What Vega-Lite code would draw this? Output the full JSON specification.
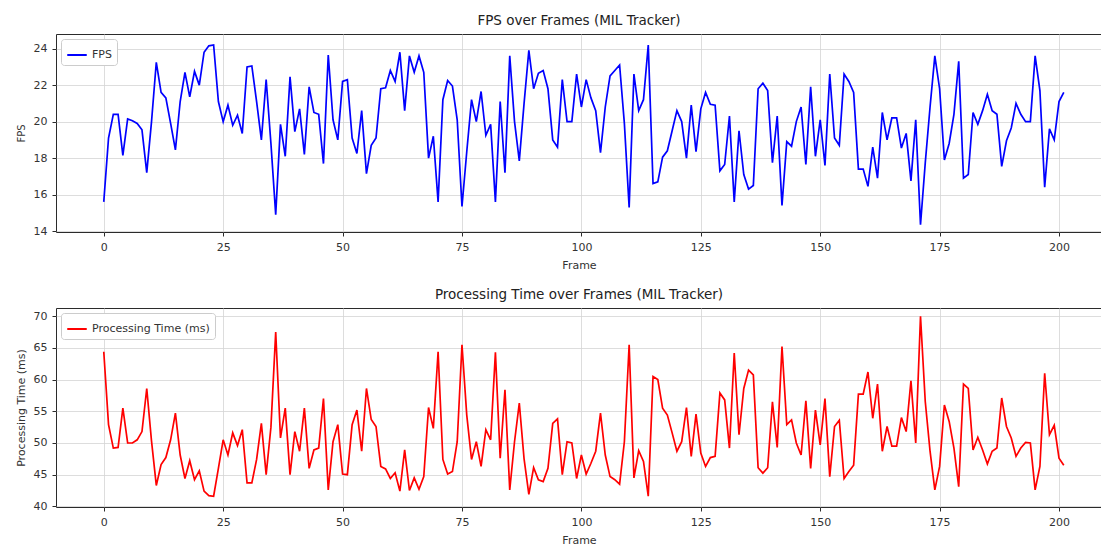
{
  "$schema": "https://vega.github.io/schema/vega-lite/v6.json",
  "background": "white",
  "padding": {"left": 14, "top": 13, "right": 0, "bottom": 0},
  "spacing": 16,
  "data": {"values": [
{"frame":0,"fps":15.6,"time":64.4},{"frame":1,"fps":19.1,"time":52.9},{"frame":2,"fps":20.4,"time":49.2},{"frame":3,"fps":20.4,"time":49.3},{"frame":4,"fps":18.15,"time":55.5},{"frame":5,"fps":20.15,"time":50.0},{"frame":6,"fps":20.05,"time":50.0},{"frame":7,"fps":19.9,"time":50.5},{"frame":8,"fps":19.55,"time":51.8},{"frame":9,"fps":17.2,"time":58.6},
{"frame":10,"fps":20.0,"time":50.3},{"frame":11,"fps":23.25,"time":43.3},{"frame":12,"fps":21.6,"time":46.6},{"frame":13,"fps":21.3,"time":47.7},{"frame":14,"fps":19.9,"time":50.5},{"frame":15,"fps":18.45,"time":54.7},{"frame":16,"fps":21.1,"time":48.1},{"frame":17,"fps":22.7,"time":44.4},{"frame":18,"fps":21.35,"time":47.2},{"frame":19,"fps":22.75,"time":44.2},
{"frame":20,"fps":22.0,"time":45.6},{"frame":21,"fps":23.8,"time":42.4},{"frame":22,"fps":24.15,"time":41.7},{"frame":23,"fps":24.2,"time":41.6},{"frame":24,"fps":21.1,"time":46.0},{"frame":25,"fps":20.0,"time":50.5},{"frame":26,"fps":20.9,"time":48.1},{"frame":27,"fps":19.8,"time":51.6},{"frame":28,"fps":20.35,"time":49.6},{"frame":29,"fps":19.35,"time":52.1},
{"frame":30,"fps":23.0,"time":43.7},{"frame":31,"fps":23.05,"time":43.7},{"frame":32,"fps":21.1,"time":47.4},{"frame":33,"fps":19.0,"time":53.1},{"frame":34,"fps":22.3,"time":45.0},{"frame":35,"fps":18.8,"time":52.5},{"frame":36,"fps":14.9,"time":67.5},{"frame":37,"fps":19.85,"time":50.8},{"frame":38,"fps":18.1,"time":55.5},{"frame":39,"fps":22.45,"time":45.0},
{"frame":40,"fps":19.45,"time":51.8},{"frame":41,"fps":20.7,"time":48.7},{"frame":42,"fps":18.2,"time":55.5},{"frame":43,"fps":21.9,"time":46.0},{"frame":44,"fps":20.5,"time":48.9},{"frame":45,"fps":20.4,"time":49.2},{"frame":46,"fps":17.7,"time":57.0},{"frame":47,"fps":23.65,"time":42.6},{"frame":48,"fps":20.1,"time":50.2},{"frame":49,"fps":19.0,"time":52.9},
{"frame":50,"fps":22.2,"time":45.1},{"frame":51,"fps":22.3,"time":45.0},{"frame":52,"fps":19.1,"time":52.9},{"frame":53,"fps":18.25,"time":55.2},{"frame":54,"fps":20.6,"time":48.7},{"frame":55,"fps":17.15,"time":58.6},{"frame":56,"fps":18.7,"time":53.7},{"frame":57,"fps":19.1,"time":52.6},{"frame":58,"fps":21.8,"time":46.3},{"frame":59,"fps":21.85,"time":45.9},
{"frame":60,"fps":22.8,"time":44.4},{"frame":61,"fps":22.2,"time":45.3},{"frame":62,"fps":23.8,"time":42.4},{"frame":63,"fps":20.6,"time":48.9},{"frame":64,"fps":23.6,"time":42.5},{"frame":65,"fps":22.7,"time":44.5},{"frame":66,"fps":23.6,"time":42.7},{"frame":67,"fps":22.7,"time":44.7},{"frame":68,"fps":18.0,"time":55.6},{"frame":69,"fps":19.2,"time":52.3},
{"frame":70,"fps":15.6,"time":64.4},{"frame":71,"fps":21.2,"time":47.4},{"frame":72,"fps":22.25,"time":45.1},{"frame":73,"fps":21.95,"time":45.5},{"frame":74,"fps":20.1,"time":50.2},{"frame":75,"fps":15.35,"time":65.5},{"frame":76,"fps":18.35,"time":54.4},{"frame":77,"fps":21.2,"time":47.4},{"frame":78,"fps":20.0,"time":50.2},{"frame":79,"fps":21.65,"time":46.3},
{"frame":80,"fps":19.25,"time":52.1},{"frame":81,"fps":19.85,"time":50.5},{"frame":82,"fps":15.6,"time":64.3},{"frame":83,"fps":21.1,"time":47.6},{"frame":84,"fps":17.2,"time":58.4},{"frame":85,"fps":23.6,"time":42.6},{"frame":86,"fps":20.0,"time":50.2},{"frame":87,"fps":17.85,"time":56.3},{"frame":88,"fps":21.0,"time":47.5},{"frame":89,"fps":23.9,"time":41.9},
{"frame":90,"fps":21.8,"time":46.1},{"frame":91,"fps":22.65,"time":44.2},{"frame":92,"fps":22.8,"time":43.9},{"frame":93,"fps":21.8,"time":46.0},{"frame":94,"fps":19.0,"time":53.1},{"frame":95,"fps":18.6,"time":53.8},{"frame":96,"fps":22.3,"time":45.0},{"frame":97,"fps":20.0,"time":50.2},{"frame":98,"fps":20.0,"time":50.0},{"frame":99,"fps":22.6,"time":44.4},
{"frame":100,"fps":20.8,"time":48.1},{"frame":101,"fps":22.3,"time":45.1},{"frame":102,"fps":21.3,"time":46.8},{"frame":103,"fps":20.6,"time":48.7},{"frame":104,"fps":18.3,"time":54.7},{"frame":105,"fps":20.8,"time":48.1},{"frame":106,"fps":22.5,"time":44.7},{"frame":107,"fps":22.8,"time":44.2},{"frame":108,"fps":23.1,"time":43.5},{"frame":109,"fps":19.9,"time":50.2},
{"frame":110,"fps":15.3,"time":65.5},{"frame":111,"fps":22.6,"time":44.5},{"frame":112,"fps":20.6,"time":48.8},{"frame":113,"fps":21.2,"time":47.1},{"frame":114,"fps":24.2,"time":41.6},{"frame":115,"fps":16.6,"time":60.5},{"frame":116,"fps":16.7,"time":60.0},{"frame":117,"fps":18.05,"time":55.5},{"frame":118,"fps":18.4,"time":54.4},{"frame":119,"fps":19.5,"time":51.6},
{"frame":120,"fps":20.6,"time":48.7},{"frame":121,"fps":20.0,"time":50.2},{"frame":122,"fps":18.0,"time":55.6},{"frame":123,"fps":20.9,"time":47.9},{"frame":124,"fps":18.35,"time":54.55},{"frame":125,"fps":20.7,"time":48.4},{"frame":126,"fps":21.6,"time":46.3},{"frame":127,"fps":20.95,"time":47.7},{"frame":128,"fps":20.9,"time":47.9},{"frame":129,"fps":17.3,"time":57.9},
{"frame":130,"fps":17.65,"time":56.8},{"frame":131,"fps":20.3,"time":49.2},{"frame":132,"fps":15.6,"time":64.2},{"frame":133,"fps":19.5,"time":51.3},{"frame":134,"fps":17.1,"time":58.6},{"frame":135,"fps":16.3,"time":61.5},{"frame":136,"fps":16.5,"time":60.75},{"frame":137,"fps":21.8,"time":46.1},{"frame":138,"fps":22.1,"time":45.25},{"frame":139,"fps":21.7,"time":46.1},
{"frame":140,"fps":17.75,"time":56.5},{"frame":141,"fps":20.3,"time":49.3},{"frame":142,"fps":15.4,"time":65.2},{"frame":143,"fps":18.9,"time":52.9},{"frame":144,"fps":18.65,"time":53.65},{"frame":145,"fps":20.0,"time":50.0},{"frame":146,"fps":20.8,"time":48.1},{"frame":147,"fps":17.65,"time":56.65},{"frame":148,"fps":21.9,"time":46.0},{"frame":149,"fps":18.1,"time":55.2},
{"frame":150,"fps":20.1,"time":49.7},{"frame":151,"fps":17.6,"time":57.0},{"frame":152,"fps":22.6,"time":44.7},{"frame":153,"fps":19.1,"time":52.6},{"frame":154,"fps":18.7,"time":53.6},{"frame":155,"fps":22.6,"time":44.4},{"frame":156,"fps":22.2,"time":45.5},{"frame":157,"fps":21.6,"time":46.5},{"frame":158,"fps":17.4,"time":57.7},{"frame":159,"fps":17.4,"time":57.7},
{"frame":160,"fps":16.45,"time":61.2},{"frame":161,"fps":18.6,"time":53.9},{"frame":162,"fps":16.9,"time":59.3},{"frame":163,"fps":20.5,"time":48.7},{"frame":164,"fps":19.0,"time":52.6},{"frame":165,"fps":20.2,"time":49.5},{"frame":166,"fps":20.2,"time":49.5},{"frame":167,"fps":18.55,"time":54.0},{"frame":168,"fps":19.35,"time":51.8},{"frame":169,"fps":16.75,"time":59.8},
{"frame":170,"fps":20.1,"time":50.0},{"frame":171,"fps":14.35,"time":70.0},{"frame":172,"fps":17.75,"time":56.5},{"frame":173,"fps":20.8,"time":48.7},{"frame":174,"fps":23.6,"time":42.6},{"frame":175,"fps":21.8,"time":46.3},{"frame":176,"fps":17.9,"time":56.0},{"frame":177,"fps":18.8,"time":53.4},{"frame":178,"fps":20.4,"time":49.2},{"frame":179,"fps":23.3,"time":43.1},
{"frame":180,"fps":16.9,"time":59.3},{"frame":181,"fps":17.1,"time":58.6},{"frame":182,"fps":20.5,"time":48.9},{"frame":183,"fps":19.85,"time":50.9},{"frame":184,"fps":20.6,"time":48.9},{"frame":185,"fps":21.5,"time":46.7},{"frame":186,"fps":20.6,"time":48.7},{"frame":187,"fps":20.4,"time":49.2},{"frame":188,"fps":17.55,"time":57.1},{"frame":189,"fps":18.95,"time":52.6},
{"frame":190,"fps":19.65,"time":50.8},{"frame":191,"fps":21.0,"time":47.9},{"frame":192,"fps":20.4,"time":49.2},{"frame":193,"fps":20.0,"time":50.1},{"frame":194,"fps":20.0,"time":50.0},{"frame":195,"fps":23.6,"time":42.6},{"frame":196,"fps":21.7,"time":46.3},{"frame":197,"fps":16.4,"time":61.0},{"frame":198,"fps":19.6,"time":51.3},{"frame":199,"fps":19.0,"time":52.8},
{"frame":200,"fps":21.1,"time":47.6},{"frame":201,"fps":21.6,"time":46.5}
  ]},
  "config": {
    "font": "DejaVu Sans",
    "view": {"stroke": "#2b2b2b", "strokeWidth": 1},
    "axis": {
      "domain": false,
      "grid": true,
      "gridColor": "#d4d4d4",
      "gridWidth": 0.8,
      "tickColor": "#2b2b2b",
      "tickSize": 4,
      "labelFontSize": 11,
      "labelColor": "#333333",
      "labelPadding": 5,
      "titleFontSize": 11,
      "titleFontWeight": "normal",
      "titleColor": "#333333",
      "titlePadding": 7
    },
    "title": {"fontSize": 13.5, "fontWeight": "normal", "color": "#222222", "offset": 7, "anchor": "middle"},
    "legend": {
      "orient": "top-left",
      "offset": 5,
      "padding": 5,
      "fillColor": "white",
      "strokeColor": "#cccccc",
      "cornerRadius": 3,
      "symbolType": "stroke",
      "symbolStrokeWidth": 2,
      "symbolSize": 380,
      "labelFontSize": 11,
      "labelColor": "#333333",
      "title": null
    }
  },
  "resolve": {"scale": {"color": "independent"}, "legend": {"color": "independent"}},
  "vconcat": [
    {
      "width": 1046,
      "height": 198,
      "title": "FPS over Frames (MIL Tracker)",
      "mark": {"type": "line", "strokeWidth": 1.7},
      "encoding": {
        "x": {"field": "frame", "type": "quantitative", "scale": {"domain": [-10, 209], "nice": false, "zero": false}, "axis": {"values": [0, 25, 50, 75, 100, 125, 150, 175, 200], "title": "Frame"}},
        "y": {"field": "fps", "type": "quantitative", "scale": {"domain": [13.95, 24.8], "nice": false, "zero": false}, "axis": {"values": [14, 16, 18, 20, 22, 24], "title": "FPS", "titleFontSize": 10}},
        "color": {"datum": "FPS", "type": "nominal", "scale": {"range": ["#0000ff"]}, "legend": {"title": null}}
      }
    },
    {
      "width": 1046,
      "height": 199,
      "title": "Processing Time over Frames (MIL Tracker)",
      "mark": {"type": "line", "strokeWidth": 1.7},
      "encoding": {
        "x": {"field": "frame", "type": "quantitative", "scale": {"domain": [-10, 209], "nice": false, "zero": false}, "axis": {"values": [0, 25, 50, 75, 100, 125, 150, 175, 200], "title": "Frame"}},
        "y": {"field": "time", "type": "quantitative", "scale": {"domain": [39.9, 71.3], "nice": false, "zero": false}, "axis": {"values": [40, 45, 50, 55, 60, 65, 70], "title": "Processing Time (ms)"}},
        "color": {"datum": "Processing Time (ms)", "type": "nominal", "scale": {"range": ["#ff0000"]}, "legend": {"title": null}}
      }
    }
  ]
}
